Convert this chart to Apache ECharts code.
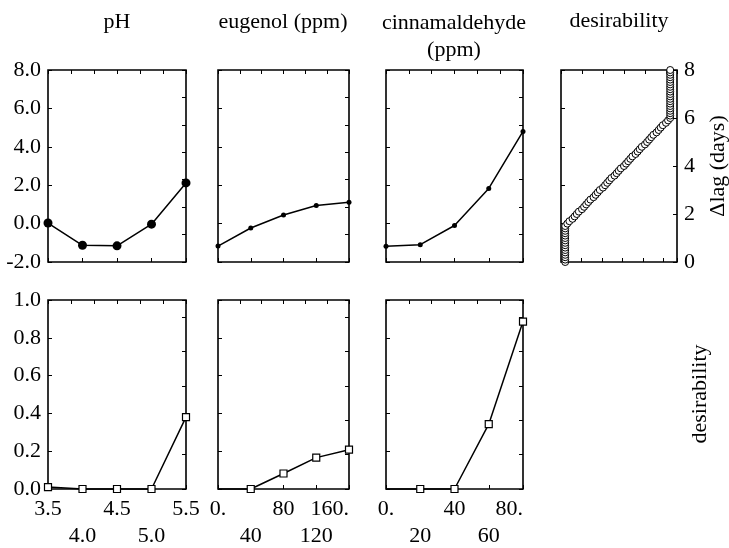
<!DOCTYPE html>
<html>
<head>
<meta charset="utf-8">
<script src="https://cdn.jsdelivr.net/npm/echarts/dist/echarts.min.js"></script>
<style>
  body { margin: 0; background: #fff; }
  #main { width: 729px; height: 548px; }
</style>
</head>
<body>
<div id="main"></div>
<script>
// factor levels
const ph = [3.5, 4.0, 4.5, 5.0, 5.5];
const eugenol = [0, 40, 80, 120, 160];
const cinnam = [0, 20, 40, 60, 80];

// predicted delta lag (days)
const lagPh = [0.03, -1.13, -1.16, -0.03, 2.12];
const lagEug = [-1.17, -0.23, 0.45, 0.94, 1.11];
const lagCin = [-1.18, -1.10, -0.10, 1.83, 4.80];

// desirability
const desPh = [0.01, 0, 0, 0, 0.38];
const desEug = [0, 0, 0.082, 0.166, 0.208];
const desCin = [0, 0, 0, 0.343, 0.886];

// desirability function of delta lag
const dLag = [0, 0.1, 0.2, 0.3, 0.4, 0.5, 0.6, 0.7, 0.8, 0.9, 1.0, 1.1, 1.2, 1.3, 1.4, 1.5,
  1.6, 1.7, 1.8, 1.9, 2.0, 2.1, 2.2, 2.3, 2.4, 2.5, 2.6, 2.7, 2.8, 2.9, 3.0, 3.1, 3.2, 3.3, 3.4,
  3.5, 3.6, 3.7, 3.8, 3.9, 4.0, 4.1, 4.2, 4.3, 4.4, 4.5, 4.6, 4.7, 4.8, 4.9, 5.0, 5.1, 5.2, 5.3,
  5.4, 5.5, 5.6, 5.7, 5.8, 5.9, 6.0, 6.1, 6.2, 6.3, 6.4, 6.5, 6.6, 6.7, 6.8, 6.9, 7.0, 7.1, 7.2,
  7.3, 7.4, 7.5, 7.6, 7.7, 7.8, 7.9, 8.0];
const dVal = [0, 0, 0, 0, 0, 0, 0, 0, 0, 0, 0, 0, 0, 0, 0, 0,
  0.02, 0.04, 0.07, 0.09, 0.11, 0.13, 0.16, 0.18, 0.2, 0.22, 0.24, 0.27, 0.29, 0.31, 0.33, 0.36,
  0.38, 0.4, 0.42, 0.44, 0.47, 0.49, 0.51, 0.53, 0.56, 0.58, 0.6, 0.62, 0.64, 0.67, 0.69, 0.71,
  0.73, 0.76, 0.78, 0.8, 0.82, 0.84, 0.87, 0.89, 0.91, 0.93, 0.96, 0.98,
  1, 1, 1, 1, 1, 1, 1, 1, 1, 1, 1, 1, 1, 1, 1, 1, 1, 1, 1, 1, 1];

// tick labels
const phTicks = ['3.5', '4.0', '4.5', '5.0', '5.5'];
const eugTicks = ['0.', '40', '80', '120', '160.'];
const cinTicks = ['0.', '20', '40', '60', '80.'];

const font = '"Liberation Serif", "Times New Roman", serif';
const tick = {show: true, inside: true, length: 4, lineStyle: {color: '#000', width: 1}};
const noLine = {show: false, onZero: false};
const noSplit = {show: false};

const grids = [], xAxes = [], yAxes = [], series = [];

const xLabel = (p, odd) => ({
    show: true, margin: 9, color: '#000', fontFamily: font, fontSize: 22,
    showMinLabel: true, showMaxLabel: true,
    alignMaxLabel: odd ? 'center' : (p.alignMax || 'center'),
    formatter: (v, i) => (i % 2 === (odd ? 1 : 0)) ? p.xLabels[i] : ''
});

const addPanel = (box, p) => {
    const g = grids.length;
    grids.push({
        left: box[0], top: box[1], width: box[2], height: box[3],
        show: true, borderColor: '#000', borderWidth: 1.6, backgroundColor: 'transparent'
    });
    const xi = xAxes.length;
    xAxes.push({
        gridIndex: g, type: 'value', position: 'bottom',
        min: p.x[0], max: p.x[1], interval: p.x[2],
        axisLine: noLine, splitLine: noSplit, axisTick: tick,
        axisLabel: p.xLabels ? xLabel(p, false) : {show: false}
    });
    xAxes.push({
        gridIndex: g, type: 'value', position: 'top', min: 0, max: p.topN, interval: 1,
        axisLine: noLine, splitLine: noSplit, axisTick: tick, axisLabel: {show: false}
    });
    if (p.xLabels) {
        // second row of staggered labels
        xAxes.push({
            gridIndex: g, type: 'value', position: 'bottom', offset: 27,
            min: p.x[0], max: p.x[1], interval: p.x[2],
            axisLine: noLine, splitLine: noSplit, axisTick: {show: false},
            axisLabel: xLabel(p, true)
        });
    }
    const yi = yAxes.length;
    yAxes.push({
        gridIndex: g, type: 'value', position: p.yPos || 'left',
        min: p.y[0], max: p.y[1], interval: p.y[2],
        axisLine: noLine, splitLine: noSplit, axisTick: tick,
        axisLabel: p.yFmt ? {
            show: true, margin: 7, color: '#000', fontFamily: font, fontSize: 22,
            formatter: p.yFmt
        } : {show: false}
    });
    yAxes.push({
        gridIndex: g, type: 'value', position: p.yPos === 'right' ? 'left' : 'right',
        min: p.side[0], max: p.side[1], interval: p.side[2],
        axisLine: noLine, splitLine: noSplit, axisTick: tick, axisLabel: {show: false}
    });
    series.push(Object.assign({
        type: 'line', xAxisIndex: xi, yAxisIndex: yi, clip: false,
        data: p.xs.map((x, i) => (i === 0 && p.bareStart) ? {value: [x, p.ys[i]], symbol: 'none'} : [x, p.ys[i]]),
        lineStyle: {color: '#000', width: 1.5}
    }, p.style));
};

const dot = (size) => ({symbol: 'circle', symbolSize: size, itemStyle: {color: '#000'}});
const box = {symbol: 'rect', symbolSize: 7, itemStyle: {color: '#fff', borderColor: '#000', borderWidth: 1.2}};
const topY = [-2, 8, 2];
const botY = [0, 1, 0.2];

addPanel([48, 70, 138, 192], {x: [3.5, 5.5, 0.5], y: topY, topN: 6, side: [0, 7, 1],
    yFmt: v => v.toFixed(1), xs: ph, ys: lagPh, style: dot(9)});
addPanel([218, 70, 131, 192], {x: [0, 160, 40], y: topY, topN: 6, side: [0, 7, 1],
    xs: eugenol, ys: lagEug, style: dot(5)});
addPanel([386, 70, 137, 192], {x: [0, 80, 20], y: topY, topN: 6, side: [0, 7, 1],
    xs: cinnam, ys: lagCin, style: dot(5)});
addPanel([561, 70, 116, 192], {x: [-0.04, 1.065, 0.195], y: [0, 8, 2], yPos: 'right', topN: 5.5,
    side: [-2, 8, 2], yFmt: v => String(v), xs: dVal, ys: dLag,
    style: {symbol: 'circle', symbolSize: 7, lineStyle: {width: 0, opacity: 0},
        itemStyle: {color: '#fff', borderColor: '#000', borderWidth: 1}}});
addPanel([48, 300, 138, 189], {x: [3.5, 5.5, 0.5], y: botY, topN: 6, side: [0, 5.5, 1],
    yFmt: v => v.toFixed(1), xLabels: phTicks, xs: ph, ys: desPh, style: box});
addPanel([218, 300, 131, 189], {x: [0, 160, 40], y: botY, topN: 6, side: [0, 5.5, 1],
    xLabels: eugTicks, alignMax: 'right', bareStart: true, xs: eugenol, ys: desEug, style: box});
addPanel([386, 300, 137, 189], {x: [0, 80, 20], y: botY, topN: 6, side: [0, 5.5, 1],
    xLabels: cinTicks, alignMax: 'right', bareStart: true, xs: cinnam, ys: desCin, style: box});

const label = (text, x, y, rot) => ({
    type: 'text', x: x, y: y, rotation: rot || 0,
    style: {text: text, font: '22px ' + font, fill: '#000', align: 'center', verticalAlign: 'middle', lineHeight: 27}
});

const chart = echarts.init(document.getElementById('main'));
chart.setOption({
    animation: false,
    grid: grids,
    xAxis: xAxes,
    yAxis: yAxes,
    series: series,
    graphic: [
        label('pH', 117, 22),
        label('eugenol (ppm)', 283, 22),
        label('cinnamaldehyde\n(ppm)', 454, 37),
        label('desirability', 619, 21),
        label('Δlag (days)', 718, 166, Math.PI / 2),
        label('desirability', 700, 394, Math.PI / 2)
    ]
});
</script>
</body>
</html>
